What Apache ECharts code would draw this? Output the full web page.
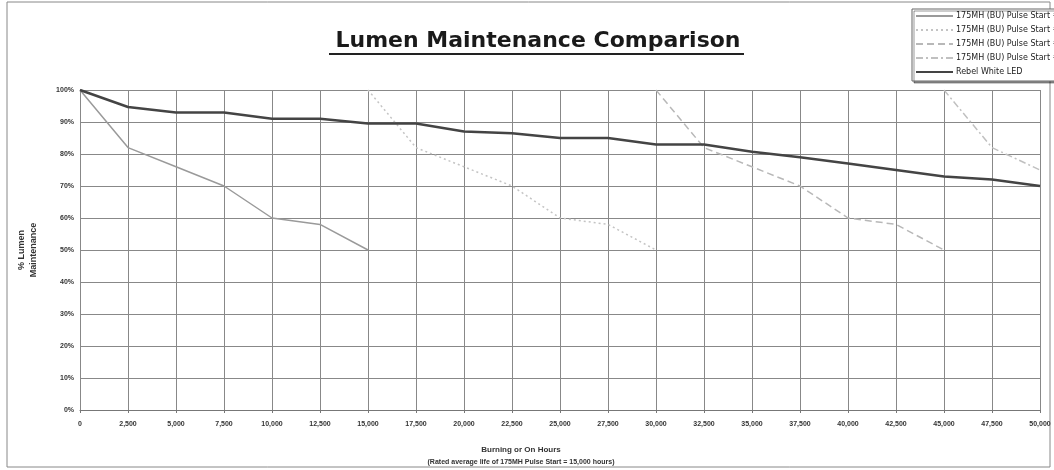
<!DOCTYPE html>
<html>
<head>
<meta charset="utf-8">
<script src="https://cdn.jsdelivr.net/npm/echarts@6/dist/echarts.min.js"></script>
<style>html,body{margin:0;padding:0;background:#fff;}#c{width:1054px;height:470px;}</style>
</head>
<body>
<div id="c"></div>
<script>
const hours = [0,2500,5000,7500,10000,12500,15000,17500,20000,22500,25000,27500,30000,32500,35000,37500,40000,42500,45000,47500,50000];
const seriesNames = ['175MH (BU) Pulse Start #1','175MH (BU) Pulse Start #2','175MH (BU) Pulse Start #3','175MH (BU) Pulse Start #4','Rebel White LED'];
const lamp1 = [100,82,76,70,60,58,50,null,null,null,null,null,null,null,null,null,null,null,null,null,null];
const lamp2 = [null,null,null,null,null,null,100,82,76,70,60,58,50,null,null,null,null,null,null,null,null];
const lamp3 = [null,null,null,null,null,null,null,null,null,null,null,null,100,82,76,70,60,58,50,null,null];
const lamp4 = [null,null,null,null,null,null,null,null,null,null,null,null,null,null,null,null,null,null,100,82,75];
const led   = [100,94.7,93,93,91,91,89.5,89.5,87,86.5,85,85,83,83,80.7,79,77,75,73,72,70];

function pairs(vals){ return hours.map((h,i)=>[h, vals[i]]).filter(p=>p[1]!==null); }

const chart = echarts.init(document.getElementById('c'));
const F = 'Liberation Sans, Arial, sans-serif';
chart.setOption({
  animation:false,
  backgroundColor:'#fff',
  textStyle:{fontFamily:F},
  title:[
    {text:'Lumen Maintenance Comparison', left:533, top:25, textAlign:'center',
     textStyle:{fontSize:22, fontWeight:'bold', color:'#1a1a1a', fontFamily:'DejaVu Sans'}},
    {text:'Burning or On Hours', left:516, top:441, textAlign:'center',
     textStyle:{fontSize:8, fontWeight:'bold', color:'#333', fontFamily:F}},
    {text:'(Rated average life of 175MH Pulse Start = 15,000 hours)', left:516, top:454, textAlign:'center',
     textStyle:{fontSize:7, fontWeight:'bold', color:'#333', fontFamily:F}}
  ],
  graphic:[
    {type:'rect', shape:{x:7,y:2,width:1043,height:465}, style:{fill:'none', stroke:'#888', lineWidth:1}, silent:true},
    {type:'line', shape:{x1:329,y1:54,x2:744,y2:54}, style:{stroke:'#222', lineWidth:2}, silent:true},
    {type:'text', x:28, y:250, rotation:Math.PI/2, style:{text:'% Lumen\nMaintenance', fill:'#333', font:'bold 9px Liberation Sans', align:'center', verticalAlign:'middle', lineHeight:12}}
  ],
  legend:{
    orient:'vertical', left:912, top:9, itemGap:6, itemWidth:37, itemHeight:9,
    backgroundColor:'#fff', borderColor:'#666', borderWidth:1, padding:[3,4,5,3],
    shadowColor:'rgba(0,0,0,0.4)', shadowOffsetX:2, shadowOffsetY:2, shadowBlur:0,
    itemStyle:{opacity:0},
    textStyle:{fontSize:8, color:'#222', fontFamily:'DejaVu Sans', padding:[0,0,0,-2]},
    data:seriesNames
  },
  grid:{left:80, right:14, top:90, bottom:60},
  xAxis:{
    type:'value', min:0, max:50000, interval:2500,
    axisLine:{lineStyle:{color:'#777', width:1}},
    axisTick:{show:true, length:3, lineStyle:{color:'#777'}},
    axisLabel:{fontSize:7, fontWeight:'bold', color:'#333', margin:11,
      formatter:v=>v.toLocaleString('en-US')},
    splitLine:{show:true, lineStyle:{color:'#888', width:1}}
  },
  yAxis:{
    type:'value', min:0, max:100, interval:10,
    axisLine:{show:true, lineStyle:{color:'#888'}},
    axisTick:{show:false},
    axisLabel:{fontSize:7, fontWeight:'bold', color:'#333', margin:6, formatter:'{value}%'},
    splitLine:{show:true, lineStyle:{color:'#888', width:1}}
  },
  series:[
    {name:seriesNames[0], type:'line', data:pairs(lamp1), symbol:'none', lineStyle:{color:'#9a9a9a', width:1.5}, itemStyle:{color:'#9a9a9a'}},
    {name:seriesNames[1], type:'line', data:pairs(lamp2), symbol:'none', lineStyle:{color:'#c4c4c4', width:1.5, type:[2,3]}, itemStyle:{color:'#c4c4c4'}},
    {name:seriesNames[2], type:'line', data:pairs(lamp3), symbol:'none', lineStyle:{color:'#b8b8b8', width:1.5, type:[7,4]}, itemStyle:{color:'#b8b8b8'}},
    {name:seriesNames[3], type:'line', data:pairs(lamp4), symbol:'none', lineStyle:{color:'#c0c0c0', width:1.5, type:[7,3,2,3]}, itemStyle:{color:'#c0c0c0'}},
    {name:seriesNames[4], type:'line', data:pairs(led), symbol:'none', lineStyle:{color:'#444', width:2.5}, itemStyle:{color:'#444'}}
  ]
});
</script>
</body>
</html>
